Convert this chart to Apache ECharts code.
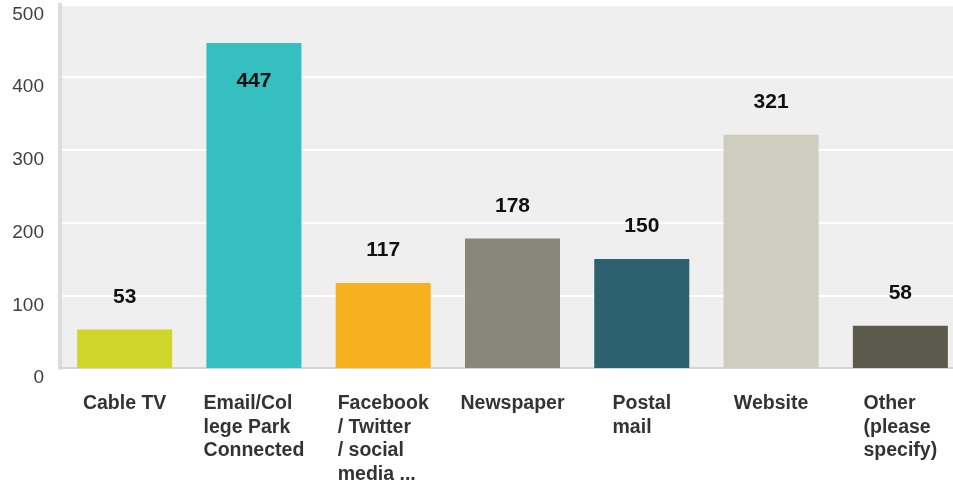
<!DOCTYPE html>
<html>
<head>
<meta charset="utf-8">
<script src="https://cdn.jsdelivr.net/npm/echarts@6/dist/echarts.min.js"></script>
<style>
  html, body { margin: 0; padding: 0; background: #ffffff; }
  #chart { width: 953px; height: 484px; }
</style>
</head>
<body>
<div id="chart"></div>
<script>
// Response counts per channel
const categories = ['Cable TV', 'Email/College Park Connected', 'Facebook / Twitter / social media ...', 'Newspaper', 'Postal mail', 'Website', 'Other (please specify)'];
const categoryLines = [
  ['Cable TV'],
  ['Email/Col', 'lege Park', 'Connected'],
  ['Facebook', '/ Twitter', '/ social', 'media ...'],
  ['Newspaper'],
  ['Postal', 'mail'],
  ['Website'],
  ['Other', '(please', 'specify)']
];
const values = [53, 447, 117, 178, 150, 321, 58];
const barColors = ['#d0d52a', '#35bfc0', '#f7b11f', '#88887a', '#2d6170', '#cfcdbf', '#5b5a4c'];
const yTicks = [0, 100, 200, 300, 400, 500];

const chart = echarts.init(document.getElementById('chart'), null, { renderer: 'canvas' });

const FONT = '"Liberation Sans", Arial, Helvetica, sans-serif';

chart.setOption({
  animation: false,
  textStyle: { fontFamily: FONT },
  grid: {
    left: 60,
    top: 4.5,
    width: 905,
    height: 363.5,
    outerBoundsMode: 'none',
    containLabel: false,
    show: true,
    backgroundColor: '#efefef',
    borderWidth: 0
  },
  xAxis: {
    type: 'category',
    data: categories,
    axisTick: { show: false },
    axisLine: { show: true, lineStyle: { color: '#d6d6d6', width: 2 } },
    axisLabel: {
      interval: 0,
      margin: 24,
      align: 'center',
      verticalAlign: 'top',
      formatter: function (value, idx) {
        return categoryLines[idx].map(l => '{a|' + l + '}').join('\n');
      },
      rich: {
        a: {
          align: 'left',
          fontFamily: FONT,
          fontSize: 19.5,
          fontWeight: 'bold',
          lineHeight: 23.5,
          color: '#333333'
        }
      }
    }
  },
  yAxis: {
    type: 'value',
    min: yTicks[0],
    max: yTicks[yTicks.length - 1],
    interval: 100,
    axisLine: { show: true, lineStyle: { color: '#dcdcdc', width: 4 } },
    axisTick: { show: false },
    splitLine: { show: true, lineStyle: { color: '#ffffff', width: 2 } },
    axisLabel: {
      margin: 16,
      color: '#404040',
      fontFamily: FONT,
      fontSize: 19,
      verticalAlign: 'top',
      lineHeight: 20
    }
  },
  series: [{
    type: 'bar',
    barWidth: '73.5%',
    data: values.map((v, i) => {
      const item = { value: v, itemStyle: { color: barColors[i] } };
      if (v === Math.max(...values)) {
        item.label = { position: 'insideTop', distance: 28 };
      }
      return item;
    }),
    label: {
      show: true,
      position: 'top',
      distance: 22,
      color: '#111111',
      fontFamily: FONT,
      fontSize: 21,
      fontWeight: 'bold'
    }
  }]
});
</script>
</body>
</html>
